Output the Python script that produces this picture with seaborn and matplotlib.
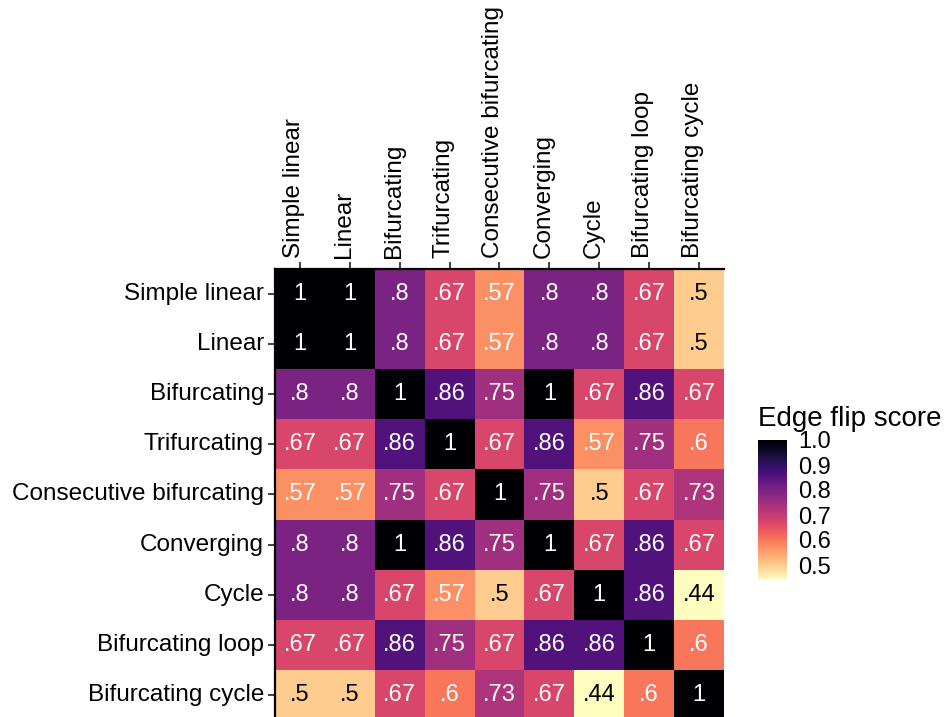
import numpy as np
import pandas as pd
import matplotlib
matplotlib.use("Agg")
import matplotlib.pyplot as plt
import matplotlib.transforms as mtransforms
import seaborn as sns

# Network topologies compared pairwise
topologies = [
    "Simple linear", "Linear", "Bifurcating", "Trifurcating",
    "Consecutive bifurcating", "Converging", "Cycle",
    "Bifurcating loop", "Bifurcating cycle",
]

# Edge flip scores, one row per topology
row_simple_linear = [1, 1, .8, .67, .57, .8, .8, .67, .5]
row_linear = [1, 1, .8, .67, .57, .8, .8, .67, .5]
row_bifurcating = [.8, .8, 1, .86, .75, 1, .67, .86, .67]
row_trifurcating = [.67, .67, .86, 1, .67, .86, .57, .75, .6]
row_consecutive = [.57, .57, .75, .67, 1, .75, .5, .67, .73]
row_converging = [.8, .8, 1, .86, .75, 1, .67, .86, .67]
row_cycle = [.8, .8, .67, .57, .5, .67, 1, .86, .44]
row_bif_loop = [.67, .67, .86, .75, .67, .86, .86, 1, .6]
row_bif_cycle = [.5, .5, .67, .6, .73, .67, .44, .6, 1]

colorbar_ticks = [0.5, 0.6, 0.7, 0.8, 0.9, 1.0]

scores = pd.DataFrame(
    [row_simple_linear, row_linear, row_bifurcating, row_trifurcating,
     row_consecutive, row_converging, row_cycle, row_bif_loop, row_bif_cycle],
    index=topologies, columns=topologies,
)


def short_label(v):
    if v == 1:
        return "1"
    return f"{v:.2f}".rstrip("0").lstrip("0")


labels = scores.map(short_label).values

sns.set_theme(style="white")
plt.rcParams["font.family"] = ["Liberation Sans", "DejaVu Sans"]
plt.rcParams["text.color"] = "black"

fig = plt.figure(figsize=(9.45, 7.17), dpi=100)
ax = fig.add_axes([275 / 945, -3 / 717, 449 / 945, 451 / 717])
cax = fig.add_axes([758 / 945, 1 - 580 / 717, 29 / 945, 140 / 717])

sns.heatmap(
    scores, ax=ax, cbar_ax=cax, cmap="magma_r", vmin=0.44, vmax=1.0,
    annot=labels, fmt="", annot_kws={"fontsize": 17},
    square=False, linewidths=0,
    cbar_kws={"ticks": colorbar_ticks},
)

# Dark text only on the palest cells
flat_scores = scores.values.ravel()
for txt, v in zip(ax.texts, flat_scores):
    txt.set_color("black" if v <= 0.5 else "white")

# Main axes: labels on top and left, with black axis lines
ax.xaxis.tick_top()
ax.xaxis.set_label_position("top")
ax.set_xlabel("")
ax.set_ylabel("")
ax.set_xticklabels(topologies, rotation=90, fontsize=17.5, color="black")
ax.set_yticklabels(topologies, rotation=0, fontsize=17.5, color="black")
ax.tick_params(axis="both", which="both", length=5, width=1.3, color="#333333",
               top=True, bottom=False, left=True, right=False, pad=3)
# Rest the rotated column labels' baselines on their ticks
shift = mtransforms.ScaledTranslation(-6 / 100, 0, fig.dpi_scale_trans)
for lbl in ax.get_xticklabels():
    lbl.set_transform(lbl.get_transform() + shift)
for side in ["top", "left"]:
    ax.spines[side].set_visible(True)
    ax.spines[side].set_color("black")
    ax.spines[side].set_linewidth(1.6)
for side in ["bottom", "right"]:
    ax.spines[side].set_visible(False)

# Colorbar styling
cbar = ax.collections[0].colorbar
cbar.outline.set_visible(False)
cax.set_yticklabels([f"{t:.1f}" for t in colorbar_ticks])
cax.tick_params(axis="y", direction="in", length=5, width=1, color="white",
                left=True, right=True, labelsize=17, labelcolor="black", pad=8)
cax.set_title("Edge flip score", fontsize=20, loc="left", pad=10, x=0,
              color="black")

fig.savefig("out.png", dpi=100)
